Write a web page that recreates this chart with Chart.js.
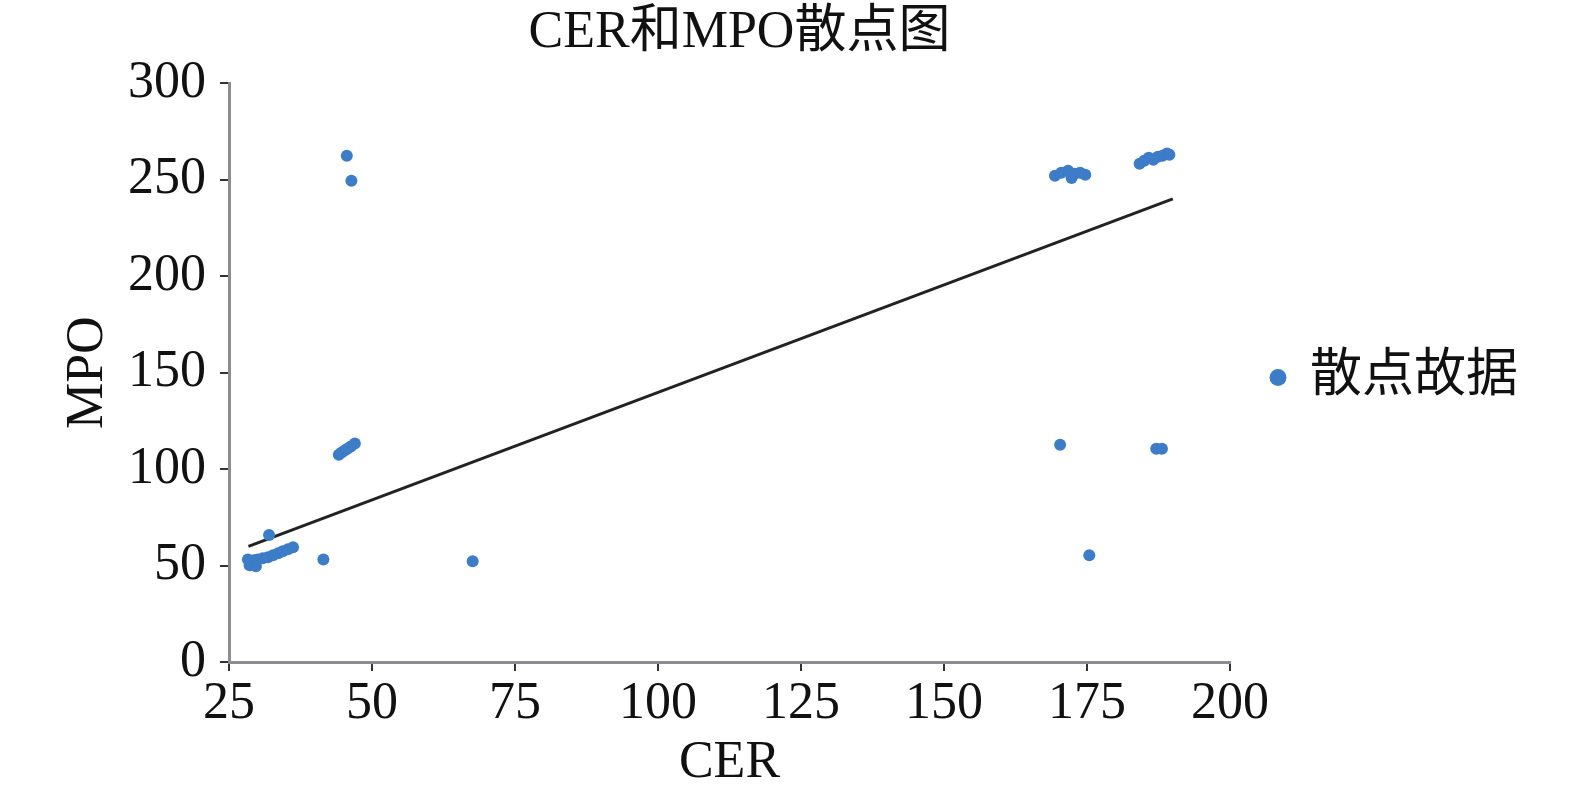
<!DOCTYPE html>
<html>
<head>
<meta charset="utf-8">
<script src="https://cdn.jsdelivr.net/npm/chart.js@4.4.1/dist/chart.umd.min.js"></script>
<style>
  html, body { margin: 0; padding: 0; background: #fff; }
  #wrap { width: 1575px; height: 791px; }
</style>
</head>
<body>
<div id="wrap"><canvas id="chart"></canvas></div>
<script>
// scatter values
const cerValues = [
    28.3, 28.6, 28.8, 29.3, 29.7, 30.0, 30.9, 31.8, 32.0, 32.7, 33.6, 34.4, 35.3, 36.2,
    41.5, 67.6,
    44.2, 44.7, 45.2, 45.7, 46.3, 47.0,
    45.6, 46.4,
    169.4, 170.5, 171.7, 172.3, 172.8, 173.8, 174.7,
    184.2, 185.0, 185.8, 186.6, 187.4, 188.2, 189.0, 189.4,
    170.3, 175.4, 187.1, 188.1
];
const mpoValues = [
    53.2, 50.1, 51.7, 52.7, 49.6, 53.2, 53.8, 54.3, 65.8, 55.3, 56.4, 57.4, 58.5, 59.5,
    53.2, 52.2,
    107.5, 108.6, 109.6, 110.6, 111.7, 113.3,
    262.5, 249.5,
    252.1, 253.7, 254.7, 251.0, 253.1, 253.7, 252.6,
    258.4, 259.9, 261.5, 260.4, 262.0, 262.5, 263.6, 263.0,
    112.7, 55.3, 110.6, 110.6
];

// trend line end points
const trendX = [28.4, 190.0];
const trendY = [60.0, 240.1];

const xTicks = [25, 50, 75, 100, 125, 150, 175, 200];
const yTicks = [0, 50, 100, 150, 200, 250, 300];

const seriesName = '散点故据';
const titleText = 'CER和MPO散点图';

const fontFamily = '"Liberation Serif", "Noto Sans CJK SC", serif';
const dotColor = '#3d7cc6';
const axisColor = '#8c8c92';

const scatterPoints = cerValues.map((x, i) => ({ x: x, y: mpoValues[i] }));
const trendPoints = trendX.map((x, i) => ({ x: x, y: trendY[i] }));

// nudge the title a bit right and lift the legend to sit mid plot
const boxNudge = {
    id: 'boxNudge',
    afterLayout(chart) {
        if (chart.titleBlock) {
            chart.titleBlock.left += 10;
            chart.titleBlock.right += 10;
        }
        if (chart.legend) {
            chart.legend.bottom -= 34;
        }
    }
};

const ctx = document.getElementById('chart').getContext('2d');
new Chart(ctx, {
    type: 'scatter',
    data: {
        datasets: [
            {
                label: seriesName,
                data: scatterPoints,
                backgroundColor: dotColor,
                borderColor: dotColor,
                pointRadius: 6,
                pointBorderWidth: 0,
                pointStyle: 'circle'
            },
            {
                label: 'trend',
                type: 'line',
                data: trendPoints,
                borderColor: '#222',
                borderWidth: 3,
                pointRadius: 0,
                fill: false
            }
        ]
    },
    options: {
        responsive: true,
        maintainAspectRatio: false,
        animation: false,
        devicePixelRatio: 1,
        layout: {
            padding: { top: 0, right: 47, bottom: 2, left: 62 }
        },
        scales: {
            x: {
                type: 'linear',
                min: 25,
                max: 200,
                afterBuildTicks: (axis) => { axis.ticks = xTicks.map(v => ({ value: v })); },
                grid: { drawOnChartArea: false, drawTicks: true, tickLength: 9, color: '#333', lineWidth: 2 },
                border: { color: axisColor, width: 3 },
                ticks: { color: '#111', font: { family: fontFamily, size: 52, lineHeight: 1 }, padding: 7, maxRotation: 0 },
                title: { display: true, text: 'CER', color: '#111', font: { family: fontFamily, size: 52, lineHeight: 1 }, padding: { top: 0, bottom: 0 } }
            },
            y: {
                type: 'linear',
                min: 0,
                max: 300,
                afterBuildTicks: (axis) => { axis.ticks = yTicks.map(v => ({ value: v })); },
                grid: { drawOnChartArea: false, drawTicks: true, tickLength: 9, color: '#333', lineWidth: 2 },
                border: { color: axisColor, width: 3 },
                ticks: { color: '#111', font: { family: fontFamily, size: 52, lineHeight: 1 }, padding: 14 },
                title: { display: true, text: 'MPO', color: '#111', font: { family: fontFamily, size: 52, lineHeight: 1 }, padding: { top: 0, bottom: 0 } }
            }
        },
        plugins: {
            title: {
                display: true,
                fullSize: false,
                text: titleText,
                color: '#111',
                font: { family: fontFamily, size: 52, weight: 'normal' },
                padding: { top: 2, bottom: 19 }
            },
            legend: {
                position: 'right',
                labels: {
                    filter: (item) => item.text === seriesName,
                    usePointStyle: true,
                    pointStyle: 'circle',
                    boxWidth: 12,
                    boxHeight: 12,
                    color: '#111',
                    font: { family: fontFamily, size: 52 },
                    padding: 42
                }
            },
            tooltip: { enabled: false }
        }
    },
    plugins: [boxNudge]
});
</script>
</body>
</html>
